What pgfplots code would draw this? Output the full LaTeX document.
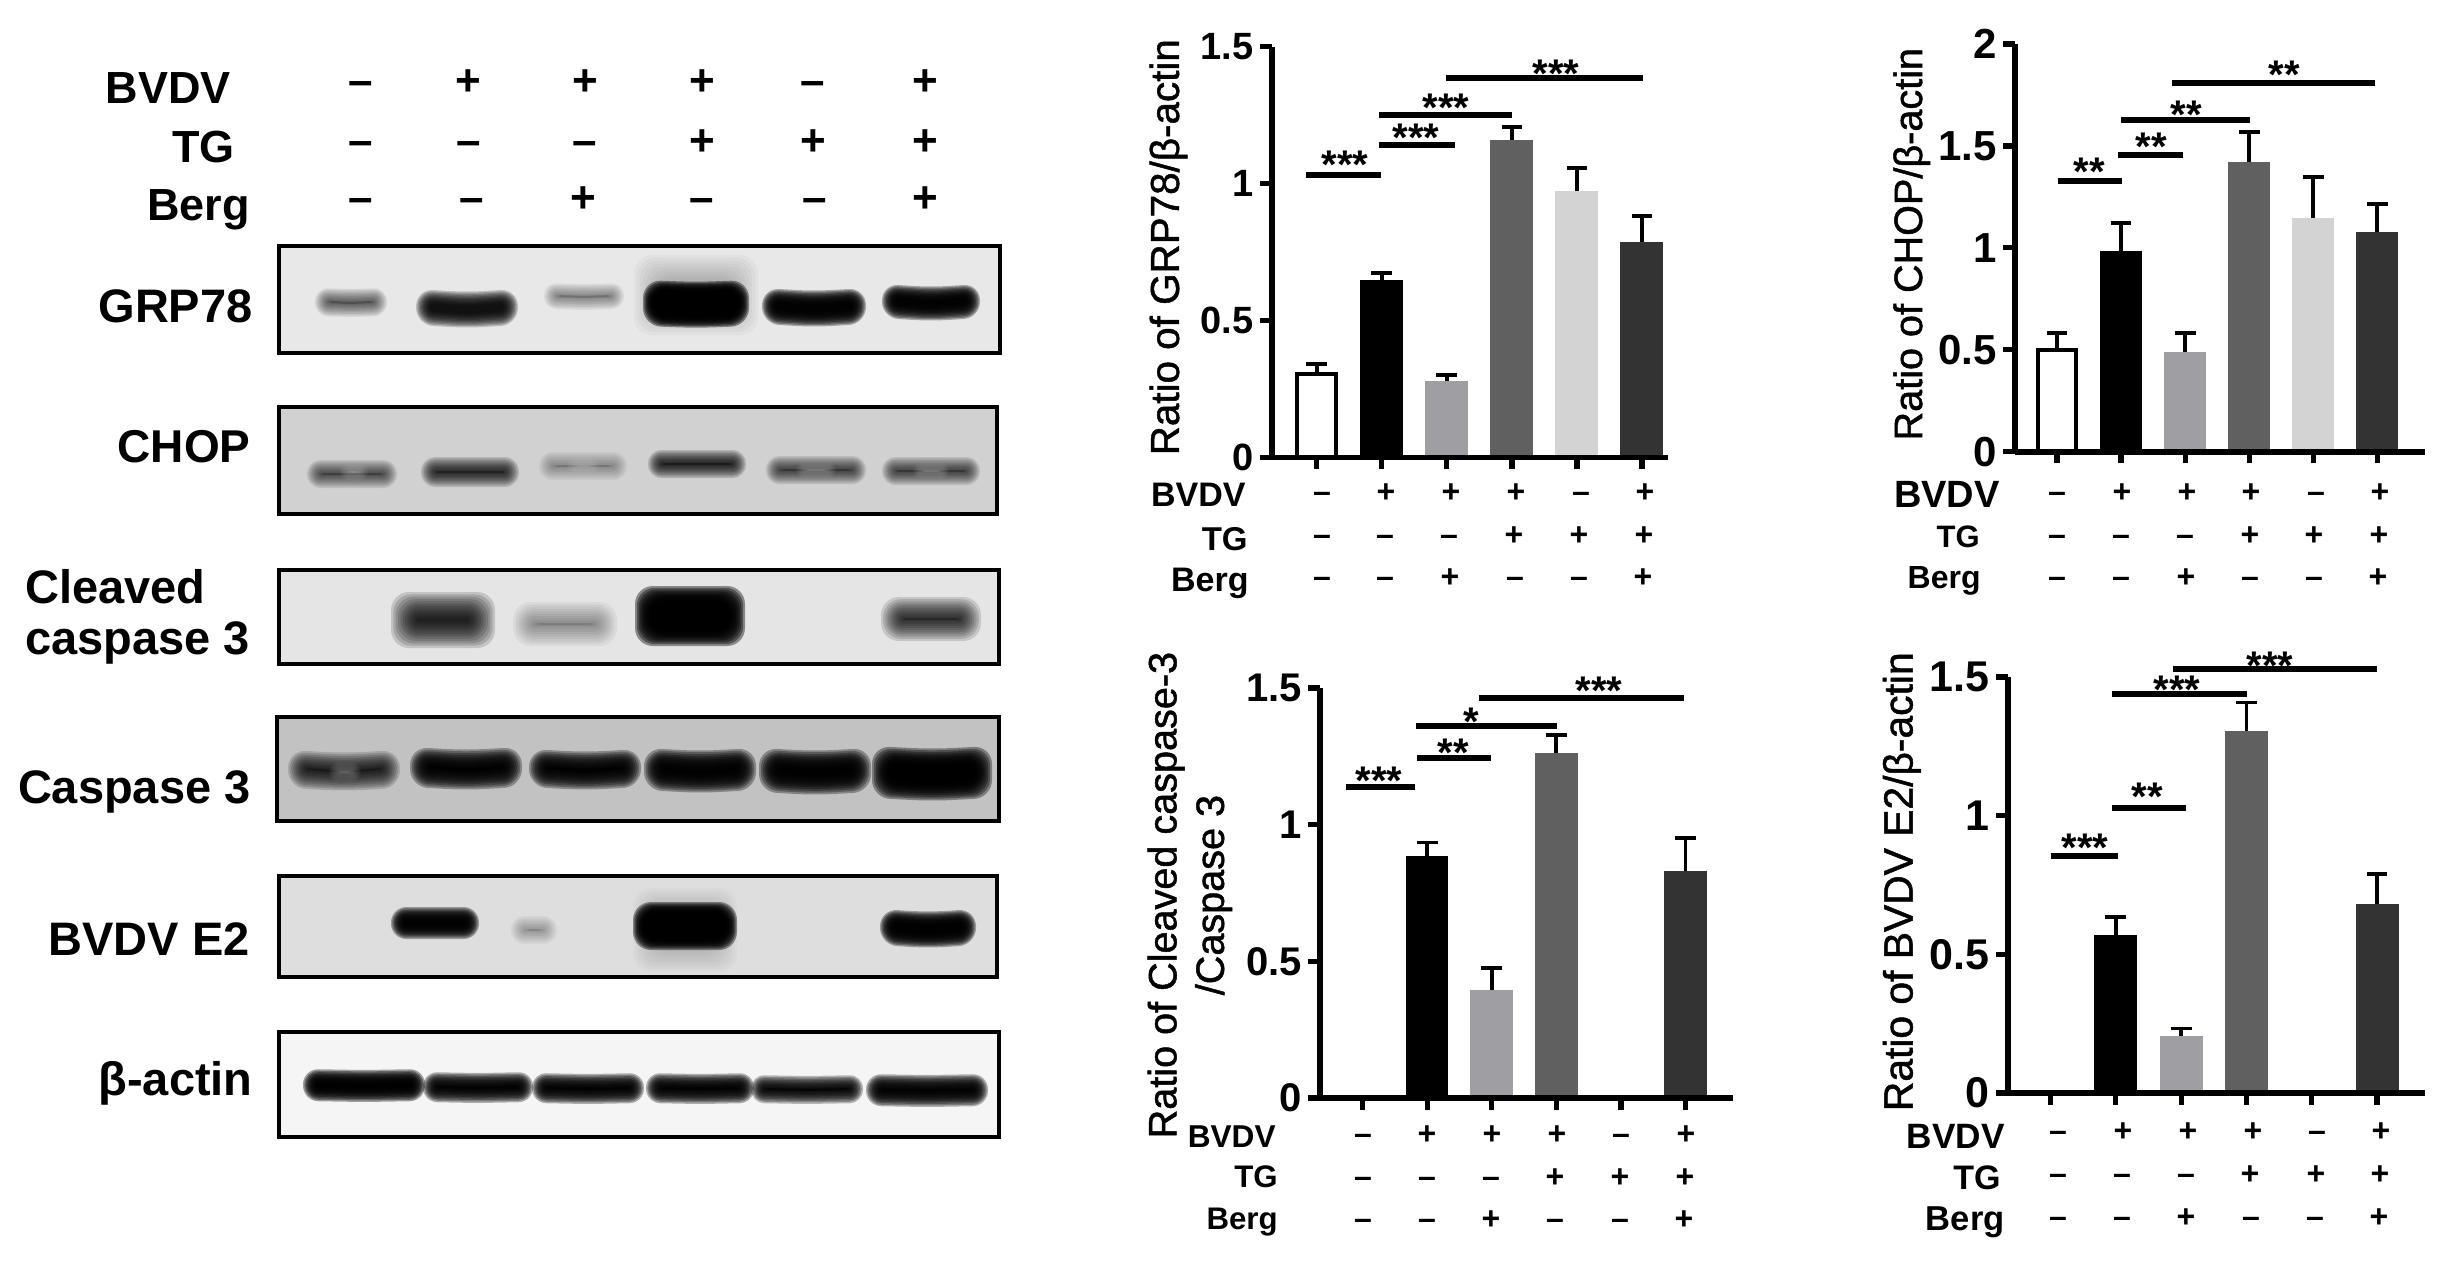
\documentclass[border=0pt]{standalone}
\usepackage{fontspec}
\usepackage{pgfplots}
\pgfplotsset{compat=1.18}
\setmainfont{Liberation Sans}
\newfontfamily\labfont[FakeBold=1.2]{Liberation Sans}
\newcommand\fs[1]{\fontsize{#1}{#1}\selectfont}
\definecolor{cA}{HTML}{000000}
\definecolor{cB}{HTML}{9E9EA3}
\definecolor{cC}{HTML}{606060}
\definecolor{cD}{HTML}{D3D3D3}
\definecolor{cE}{HTML}{333333}
\def\bandcolor{black}
% blurred blot band: cx cy halfw halfh peak smile blur
\newcommand\band[7]{%
  \pgfmathsetmacro\al{1-(1-#5)^(1/12)}%
  \foreach \k in {0,...,11}{%
    \pgfmathsetmacro\e{#7*(1-\k/5.5)}%
    \pgfmathsetmacro\W{max(2,#3+\e)}%
    \pgfmathsetmacro\H{max(1,#4+\e)}%
    \pgfmathsetmacro\R{min(\H*0.48,9)}%
    \fill[\bandcolor,opacity=\al,rounded corners=\R pt]
      (#1-\W,#2-\H-#6) -- (#1,#2-\H) -- (#1+\W,#2-\H-#6) --
      (#1+\W,#2+\H-#6) -- (#1,#2+\H) -- (#1-\W,#2+\H-#6) -- cycle;
  }%
}
\newcommand\gap[5]{\def\bandcolor{#5}\band{#1}{#2}{#3}{#4}{0.45}{0}{6}\def\bandcolor{black}}
\newcommand\blotbox[5]{\fill[#5] (#1,#2) rectangle (#3,#4);}
\newcommand\blotframe[4]{\draw[black,line width=2.4pt] (#1,#2) rectangle (#3,#4);}
\newcommand\lab[4]{\node[anchor=base east,inner sep=0pt,font=\bfseries\fs{#1}] at (#2,#3) {#4};}
\newcommand\labl[4]{\node[anchor=base west,inner sep=0pt,font=\bfseries\fs{#1}] at (#2,#3) {#4};}
\newcommand\signrow[3]{\foreach \x/\s in {#3}{\node[anchor=base,inner sep=0pt,font=\bfseries\fs{#1}] at (\x,#2) {\s};}}
\newcommand\stars[3]{\node[anchor=base,inner sep=0pt,yshift=-9pt,font=\bfseries\fs{20}] at (#1,#2) {#3};}
\pgfplotsset{
  panel/.style={
    scale only axis, anchor=south west, clip=false, axis on top,
    axis lines=left, axis line style={-,line width=2.8pt,black},
    tick style={line width=2.6pt,black}, major tick length=5.8pt,
    tick align=outside, xtick={0,1,2,3,4,5}, xticklabels={},
    minor tick num=0, ymin=0,
    yticklabel style={font=\bfseries\fs{#1},inner xsep=3.2pt},
    scaled y ticks=false,
  },
  pbar/.style={ybar,bar shift=0pt,draw=none,fill=#1,
    error bars/.cd,y dir=plus,y explicit,
    error bar style={line width=1.9pt,black},
    error mark options={rotate=90,mark size=5.2pt,line width=1.9pt,black}},
  pk/.style={black,line width=3pt,forget plot},
}
\begin{document}
\begin{tikzpicture}[x=0.5pt,y=-0.5pt]
\path[use as bounding box,fill=white] (0,0) rectangle (2449,1266);
\coordinate (pA) at (1272,457.4);
\coordinate (pB) at (2015,451.7);
\coordinate (pC) at (1320,1098);
\coordinate (pD) at (2008,1093);

%% ---------- blots ----------
\blotbox{279}{246}{1000}{353}{black!9}
\band{696}{295}{46}{24}{0.30}{0}{16}
\band{351}{303}{28}{6}{0.65}{1}{8}
\band{467}{310}{44}{11}{0.92}{3}{7}
\band{584}{297}{32}{5}{0.50}{1}{8}
\band{696}{305}{46}{16}{0.998}{2}{7}
\band{814}{309}{45}{11}{0.985}{3}{7}
\band{931}{304}{42}{10}{0.985}{3}{7}
\blotframe{279}{246}{1000}{353}

\blotbox{279}{407}{997}{514}{black!18}
\band{352}{474}{37}{6}{0.68}{0}{8}
\band{470}{472}{41}{7}{0.82}{0}{8}
\band{583}{466}{35}{5}{0.42}{0}{9}
\band{697}{464}{41}{6}{0.86}{0}{8}
\band{816}{470}{42}{6}{0.72}{0}{8}
\band{931}{471}{41}{6}{0.72}{0}{8}
\gap{354}{472}{8}{3}{black!18}
\gap{583}{466}{10}{3}{black!18}
\gap{816}{470}{14}{2}{black!18}
\gap{931}{471}{12}{2}{black!18}
\blotframe{279}{407}{997}{514}

\blotbox{279}{570}{999}{664}{black!10}
\band{443}{620}{39}{15}{0.85}{0}{13}
\band{565}{624}{39}{9}{0.44}{0}{13}
\band{690}{616}{45}{20}{0.998}{0}{10}
\band{931}{619}{38}{10}{0.82}{0}{12}
\blotframe{279}{570}{999}{664}

\blotbox{277}{717}{999}{821}{black!24}
\band{344}{772}{46}{9}{0.86}{3}{10}
\band{466}{770}{46}{10}{0.985}{3}{10}
\band{585}{771}{46}{9}{0.985}{3}{10}
\band{700}{772}{46}{11}{0.99}{3}{10}
\band{815}{773}{46}{12}{0.99}{3}{10}
\band{932}{775}{50}{16}{0.995}{3}{10}
\gap{345}{772}{10}{4}{black!24}
\blotframe{277}{717}{999}{821}

\blotbox{279}{876}{997}{977}{black!13}
\band{685}{930}{38}{28}{0.22}{0}{14}
\band{435}{923}{37}{9}{0.99}{0}{7}
\band{534}{930}{14}{5}{0.38}{0}{9}
\band{685}{926}{45}{17}{0.998}{0}{7}
\band{928}{930}{41}{11}{0.99}{3}{7}
\blotframe{279}{876}{997}{977}

\blotbox{279}{1032}{999}{1137}{black!4}
\band{364}{1086}{53}{8}{0.995}{1}{8}
\band{478}{1088}{47}{7}{0.985}{1}{8}
\band{588}{1089}{48}{7}{0.985}{1}{8}
\band{700}{1089}{46}{7}{0.985}{1}{8}
\band{807}{1090}{48}{6}{0.97}{1}{8}
\band{927}{1091}{53}{8}{0.985}{1}{8}
\blotframe{279}{1032}{999}{1137}

%% ---------- blot labels ----------
\lab{22.5}{231}{103}{BVDV}
\lab{22.5}{235}{162}{TG}
\lab{22.5}{250}{220}{Berg}
\signrow{22}{95}{361/–,468/+,585/+,702/+,813/–,925/+}
\signrow{22}{155}{361/–,469/–,585/–,702/+,813/+,925/+}
\signrow{22}{212}{361/–,472/–,583/+,702/–,815/–,925/+}
\lab{23.5}{253}{322}{GRP78}
\lab{23}{251}{462}{CHOP}
\labl{23.5}{25}{603}{Cleaved}
\labl{23.5}{25}{654}{caspase 3}
\lab{23.5}{251}{803}{Caspase 3}
\lab{23.5}{250}{955}{BVDV E2}
\lab{23.5}{253}{1095}{β-actin}

%% ---------- GRP78 ----------
\begin{axis}[panel=19, at={(pA)}, width=198pt, height=205.3pt,
  xmin=-0.688, xmax=5.40, ymax=1.5,
  ytick={0,0.5,1,1.5}, yticklabels={0,0.5,1,1.5},
  ylabel={Ratio of GRP78/β-actin},
  y label style={at={(axis description cs:-0.235,0.512)},anchor=base,font=\labfont\fs{20.2}}]
\addplot[ybar,bar shift=0pt,bar width=19.5pt,draw=black,line width=2.2pt,fill=white,
  error bars/.cd,y dir=plus,y explicit,error bar style={line width=1.9pt,black},
  error mark options={rotate=90,mark size=5.2pt,line width=1.9pt,black}]
  coordinates {(0,0.305) +- (0,0.035)};
\addplot[bar width=21.5pt,pbar=cA] coordinates {(1,0.648) +- (0,0.027)};
\addplot[bar width=21.5pt,pbar=cB] coordinates {(2,0.28) +- (0,0.022)};
\addplot[bar width=21.5pt,pbar=cC] coordinates {(3,1.16) +- (0,0.047)};
\addplot[bar width=21.5pt,pbar=cD] coordinates {(4,0.973) +- (0,0.083)};
\addplot[bar width=21.5pt,pbar=cE] coordinates {(5,0.787) +- (0,0.095)};
\addplot[pk] coordinates {(-0.16,1.032)(0.99,1.032)};
\addplot[pk] coordinates {(0.96,1.141)(2.12,1.141)};
\addplot[pk] coordinates {(0.96,1.25)(3.0,1.25)};
\addplot[pk] coordinates {(1.99,1.385)(5.01,1.385)};
\end{axis}
\stars{1345}{160}{***}\stars{1416}{133}{***}\stars{1446}{103}{***}\stars{1556}{69}{***}
\lab{17}{1246}{506}{BVDV}\lab{16.5}{1248}{550}{TG}\lab{17}{1249}{591}{Berg}
\signrow{16}{502}{1322/–,1386/+,1451/+,1516/+,1581/–,1645/+}
\signrow{16}{545}{1322/–,1385/–,1449/–,1514/+,1579/+,1644/+}
\signrow{16}{587}{1322/–,1385/–,1450/+,1515/–,1579/–,1643/+}

%% ---------- CHOP ----------
\begin{axis}[panel=21, at={(pB)}, width=204.8pt, height=203.85pt,
  xmin=-0.656, xmax=5.74, ymax=2,
  ytick={0,0.5,1,1.5,2}, yticklabels={0,0.5,1,1.5,2},
  ylabel={Ratio of CHOP/β-actin},
  y label style={at={(axis description cs:-0.227,0.509)},anchor=base,font=\labfont\fs{19.8}}]
\addplot[ybar,bar shift=0pt,bar width=19pt,draw=black,line width=2.2pt,fill=white,
  error bars/.cd,y dir=plus,y explicit,error bar style={line width=1.9pt,black},
  error mark options={rotate=90,mark size=5.2pt,line width=1.9pt,black}]
  coordinates {(0,0.5) +- (0,0.082)};
\addplot[bar width=21pt,pbar=cA] coordinates {(1,0.986) +- (0,0.137)};
\addplot[bar width=21pt,pbar=cB] coordinates {(2,0.488) +- (0,0.094)};
\addplot[bar width=21pt,pbar=cC] coordinates {(3,1.423) +- (0,0.145)};
\addplot[bar width=21pt,pbar=cD] coordinates {(4,1.146) +- (0,0.202)};
\addplot[bar width=21pt,pbar=cE] coordinates {(5,1.076) +- (0,0.139)};
\addplot[pk] coordinates {(0.01,1.326)(1.01,1.326)};
\addplot[pk] coordinates {(0.955,1.457)(1.96,1.457)};
\addplot[pk] coordinates {(0.996,1.626)(3.02,1.626)};
\addplot[pk] coordinates {(1.79,1.808)(4.96,1.808)};
\end{axis}
\stars{2089}{167}{**}\stars{2151}{142}{**}\stars{2186}{110}{**}\stars{2284}{70}{**}
\lab{19}{2000}{507}{BVDV}\lab{15.5}{1980}{547}{TG}\lab{16}{1981}{588}{Berg}
\signrow{16}{502}{2057/–,2122/+,2187/+,2251/+,2316/–,2380/+}
\signrow{16}{545}{2057/–,2121/–,2185/–,2250/+,2314/+,2379/+}
\signrow{16}{587}{2057/–,2121/–,2186/+,2250/–,2314/–,2378/+}

%% ---------- Cleaved caspase 3 ----------
\begin{axis}[panel=20, at={(pC)}, width=206.5pt, height=205pt,
  xmin=-0.658, xmax=5.735, ymax=1.5,
  ytick={0,0.5,1,1.5}, yticklabels={0,0.5,1,1.5},
  ylabel={Ratio of Cleaved caspase-3\\/Caspase 3},
  y label style={at={(axis description cs:-0.315,0.495)},anchor=center,align=center,
    font=\labfont\fontsize{19.8}{23.75}\selectfont}]
\addplot[ybar,bar shift=0pt,bar width=21pt,draw=none,fill=none] coordinates {(0,0)(4,0)};
\addplot[bar width=21.3pt,pbar=cA] coordinates {(1,0.887) +- (0,0.048)};
\addplot[bar width=21.3pt,pbar=cB] coordinates {(2,0.395) +- (0,0.081)};
\addplot[bar width=21.3pt,pbar=cC] coordinates {(3,1.262) +- (0,0.067)};
\addplot[bar width=21.3pt,pbar=cE] coordinates {(5,0.829) +- (0,0.122)};
\addplot[pk] coordinates {(-0.263,1.138)(0.82,1.138)};
\addplot[pk] coordinates {(0.85,1.243)(1.995,1.243)};
\addplot[pk] coordinates {(0.826,1.36)(3.01,1.36)};
\addplot[pk] coordinates {(1.80,1.462)(4.97,1.462)};
\end{axis}
\stars{1379}{776}{***}\stars{1453}{748}{**}\stars{1471}{717}{*}\stars{1599}{686}{***}
\lab{15.8}{1276}{1147}{BVDV}\lab{15.6}{1278}{1187}{TG}\lab{15.6}{1278}{1229}{Berg}
\signrow{16}{1144}{1363/–,1427/+,1492/+,1557/+,1621/–,1686/+}
\signrow{16}{1187}{1363/–,1427/–,1491/–,1555/+,1620/+,1685/+}
\signrow{16}{1229}{1363/–,1427/–,1491/+,1555/–,1620/–,1684/+}

%% ---------- BVDV E2 ----------
\begin{axis}[panel=21.5, at={(pD)}, width=208.5pt, height=208pt,
  xmin=-0.651, xmax=5.735, ymax=1.5,
  ytick={0,0.5,1,1.5}, yticklabels={0,0.5,1,1.5},
  ylabel={Ratio of BVDV E2/β-actin},
  y label style={at={(axis description cs:-0.229,0.508)},anchor=base,font=\labfont\fs{20.4}}]
\addplot[ybar,bar shift=0pt,bar width=21pt,draw=none,fill=none] coordinates {(0,0)(4,0)};
\addplot[bar width=21.5pt,pbar=cA] coordinates {(1,0.571) +- (0,0.065)};
\addplot[bar width=21.5pt,pbar=cB] coordinates {(2,0.204) +- (0,0.029)};
\addplot[bar width=21.5pt,pbar=cC] coordinates {(3,1.306) +- (0,0.102)};
\addplot[bar width=21.5pt,pbar=cE] coordinates {(5,0.681) +- (0,0.109)};
\addplot[pk] coordinates {(0,0.855)(1.03,0.855)};
\addplot[pk] coordinates {(0.937,1.026)(2.075,1.026)};
\addplot[pk] coordinates {(0.937,1.438)(3.006,1.438)};
\addplot[pk] coordinates {(1.874,1.529)(5.006,1.529)};
\end{axis}
\stars{2085}{843}{***}\stars{2147}{792}{**}\stars{2177}{685}{***}\stars{2270}{661}{***}
\lab{17.6}{2005}{1148}{BVDV}\lab{17}{2001}{1189}{TG}\lab{17.3}{2005}{1230}{Berg}
\signrow{16}{1141}{2058/–,2123/+,2188/+,2253/+,2317/–,2381/+}
\signrow{16}{1184}{2058/–,2122/–,2186/–,2250/+,2316/+,2380/+}
\signrow{16}{1227}{2058/–,2122/–,2186/+,2251/–,2315/–,2379/+}
\end{tikzpicture}
\end{document}
